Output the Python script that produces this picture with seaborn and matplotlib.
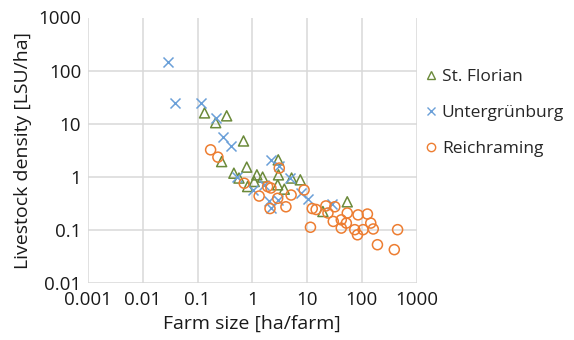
import numpy as np
import pandas as pd
import matplotlib
matplotlib.use("Agg")
import matplotlib.pyplot as plt
from matplotlib.lines import Line2D
from matplotlib.ticker import FixedLocator, FuncFormatter, NullLocator
import seaborn as sns

# Farm size [ha/farm] and livestock density [LSU/ha] per municipality
st_florian_size = [0.134, 0.214, 0.34, 0.69, 0.275, 0.79, 0.46, 0.57, 0.82, 1.21,
                   1.54, 1.08, 2.97, 3.0, 2.9, 3.83, 5.2, 7.5, 19.4, 54]
st_florian_density = [15.9, 10.4, 14, 4.7, 1.92, 1.51, 1.16, 0.94, 0.65, 1.08,
                      0.98, 0.81, 2.07, 1.08, 0.70, 0.58, 0.94, 0.87, 0.22, 0.335]

untergruenburg_size = [0.029, 0.039, 0.117, 0.214, 0.288, 0.40, 0.53, 1.01, 1.65, 2.03,
                       2.18, 2.9, 2.18, 3.1, 4.94, 7.8, 10.3, 28]
untergruenburg_density = [145, 24, 24, 12.6, 5.5, 3.7, 0.97, 0.55, 0.70, 0.34,
                          0.255, 0.366, 2.07, 1.6, 0.94, 0.49, 0.377, 0.30]

reichraming_size = [0.173, 0.235, 3.1, 0.71, 1.33, 1.9, 2.18, 2.9, 4.1, 2.1,
                    5.1, 8.8, 12.4, 14.6, 11.5, 22, 24, 32, 30, 42,
                    42, 54, 52, 74, 83, 85, 105, 126, 145, 161,
                    192, 390, 448]
reichraming_density = [3.2, 2.33, 1.45, 0.75, 0.43, 0.65, 0.61, 0.39, 0.27, 0.25,
                       0.45, 0.56, 0.25, 0.24, 0.111, 0.28, 0.206, 0.27, 0.143, 0.153,
                       0.107, 0.206, 0.133, 0.10, 0.080, 0.19, 0.10, 0.197, 0.133, 0.103,
                       0.052, 0.042, 0.10]

series_names = ["St. Florian", "Untergrünburg", "Reichraming"]
series_colors = ["#6b8a3a", "#6a9fd8", "#ed7d31"]
series_markers = ["^", "x", "o"]

tick_values = [0.001, 0.01, 0.1, 1, 10, 100, 1000]
y_tick_values = [0.01, 0.1, 1, 10, 100, 1000]

frames = [
    pd.DataFrame({"size": st_florian_size, "density": st_florian_density, "site": series_names[0]}),
    pd.DataFrame({"size": untergruenburg_size, "density": untergruenburg_density, "site": series_names[1]}),
    pd.DataFrame({"size": reichraming_size, "density": reichraming_density, "site": series_names[2]}),
]

sns.set_style("white")
plt.rcParams["font.family"] = ["Open Sans", "DejaVu Sans"]

fig = plt.figure(figsize=(5.74, 3.40), dpi=100)
ax = fig.add_axes([88 / 574, 1 - 282.7 / 340, (416.7 - 88) / 574, (282.7 - 17.5) / 340])

for df, color, marker in zip(frames, series_colors, series_markers):
    sns.scatterplot(data=df, x="size", y="density", ax=ax, marker=marker,
                    color=color, s=52, linewidth=1.1, legend=False, zorder=3)
    coll = ax.collections[-1]
    if marker != "x":
        coll.set_facecolor("none")
    coll.set_edgecolor(color)

ax.set_xscale("log")
ax.set_yscale("log")
ax.set_xlim(0.001, 1000)
ax.set_ylim(0.01, 1000)

fmt = FuncFormatter(lambda v, pos: f"{v:g}")
ax.xaxis.set_major_locator(FixedLocator(tick_values))
ax.yaxis.set_major_locator(FixedLocator(y_tick_values))
ax.xaxis.set_minor_locator(NullLocator())
ax.yaxis.set_minor_locator(NullLocator())
ax.xaxis.set_major_formatter(fmt)
ax.yaxis.set_major_formatter(fmt)

ax.grid(True, which="major", color="#d9d9d9", linewidth=1.1)
for side in ax.spines.values():
    side.set_visible(False)
ax.tick_params(axis="both", length=0, labelsize=13.5, colors="#1a1a1a")
ax.tick_params(axis="x", pad=6)
ax.tick_params(axis="y", pad=5)

ax.set_xlabel("Farm size [ha/farm]", fontsize=14, color="#1a1a1a", labelpad=4)
ax.set_ylabel("Livestock density [LSU/ha]", fontsize=14, color="#1a1a1a", labelpad=4)

handles = [
    Line2D([], [], linestyle="none", marker=m, markersize=6,
           markerfacecolor="none" if m != "x" else c, markeredgecolor=c,
           markeredgewidth=1.0, label=n)
    for n, c, m in zip(series_names, series_colors, series_markers)
]
fig.legend(handles=handles, loc="upper left", bbox_to_anchor=(427 / 574, 1 - 69 / 340),
           frameon=False, fontsize=12.5, handlelength=0.5, handletextpad=0.35,
           labelspacing=1.15, borderpad=0.0, borderaxespad=0.0)

fig.savefig("out.png", dpi=100)
